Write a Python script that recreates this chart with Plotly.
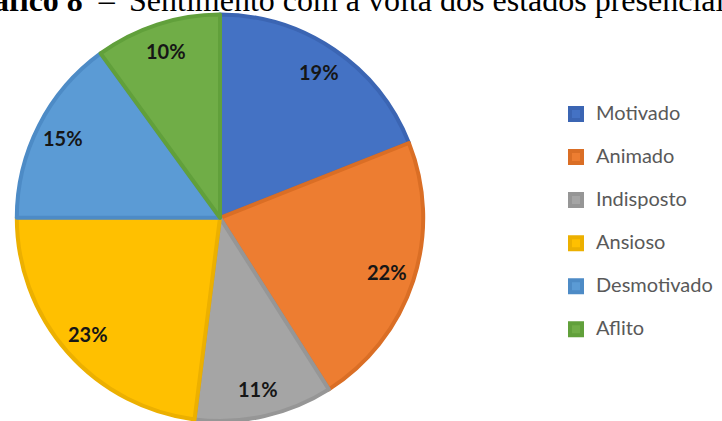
import math
import plotly.graph_objects as go

# Sentiment categories and their shares (%)
categories = ["Motivado", "Animado", "Indisposto", "Ansioso", "Desmotivado", "Aflito"]
values = [19, 22, 11, 23, 15, 10]
fill_colors = ["#4472C4", "#ED7D31", "#A5A5A5", "#FFC000", "#5B9BD5", "#70AD47"]
edge_colors = ["#3B65B3", "#DA6E25", "#969696", "#ECB000", "#4D8BC6", "#61A03B"]

W, H = 722, 421
# pie geometry in pixels (centre measured from the top-left corner)
CX, R = 220, 203.2
CY = H - R
LABEL_R = 0.865 * R

legend_labels = [f"<span style='font-size:20px'>{c}</span><br> " for c in categories]

fig = go.Figure(
    go.Pie(
        labels=legend_labels,
        values=values,
        sort=False,
        direction="clockwise",
        rotation=0,
        textinfo="none",
        hoverinfo="skip",
        marker=dict(colors=fill_colors, line=dict(color=edge_colors, width=4)),
        domain=dict(x=[(CX - R) / W, (CX + R) / W], y=[0, 2 * R / H]),
    )
)

# percentage labels placed near the outer part of each slice
annotations = []
total = sum(values)
cum = 0
for v in values:
    mid = 90 - 360 * (cum + v / 2) / total
    cum += v
    th = math.radians(mid)
    px = CX + LABEL_R * math.cos(th)
    py = CY - LABEL_R * math.sin(th)
    annotations.append(dict(
        x=px / W, y=1 - py / H, xref="paper", yref="paper",
        text=f"<b>{round(100 * v / total)}%</b>", showarrow=False,
        xanchor="center", yanchor="middle",
        font=dict(family="Lato", size=20, color="#161616"),
    ))

# heading (runs past the top edge of the page)
title_font = dict(family="Liberation Serif", size=32, color="#000000")
annotations.append(dict(
    x=118 / W, y=1 - 20 / H, xref="paper", yref="paper",
    text="<b>Gráfico 8</b>&nbsp;&nbsp;–", showarrow=False,
    xanchor="right", yanchor="bottom", font=title_font,
))
annotations.append(dict(
    x=127 / W, y=1 - 20 / H, xref="paper", yref="paper",
    text="Sentimento com a volta dos estados presenciais", showarrow=False,
    xanchor="left", yanchor="bottom", font=title_font,
))

fig.update_layout(
    width=W, height=H,
    margin=dict(l=0, r=0, t=0, b=0),
    paper_bgcolor="white", plot_bgcolor="white",
    showlegend=True,
    legend=dict(
        x=556 / W, y=1 - 97.5 / H, xanchor="left", yanchor="top",
        font=dict(family="Lato", size=15.4, color="#595959"),
        valign="top", itemwidth=30, bgcolor="rgba(0,0,0,0)",
    ),
    annotations=annotations,
)

fig.write_html("out.html")
